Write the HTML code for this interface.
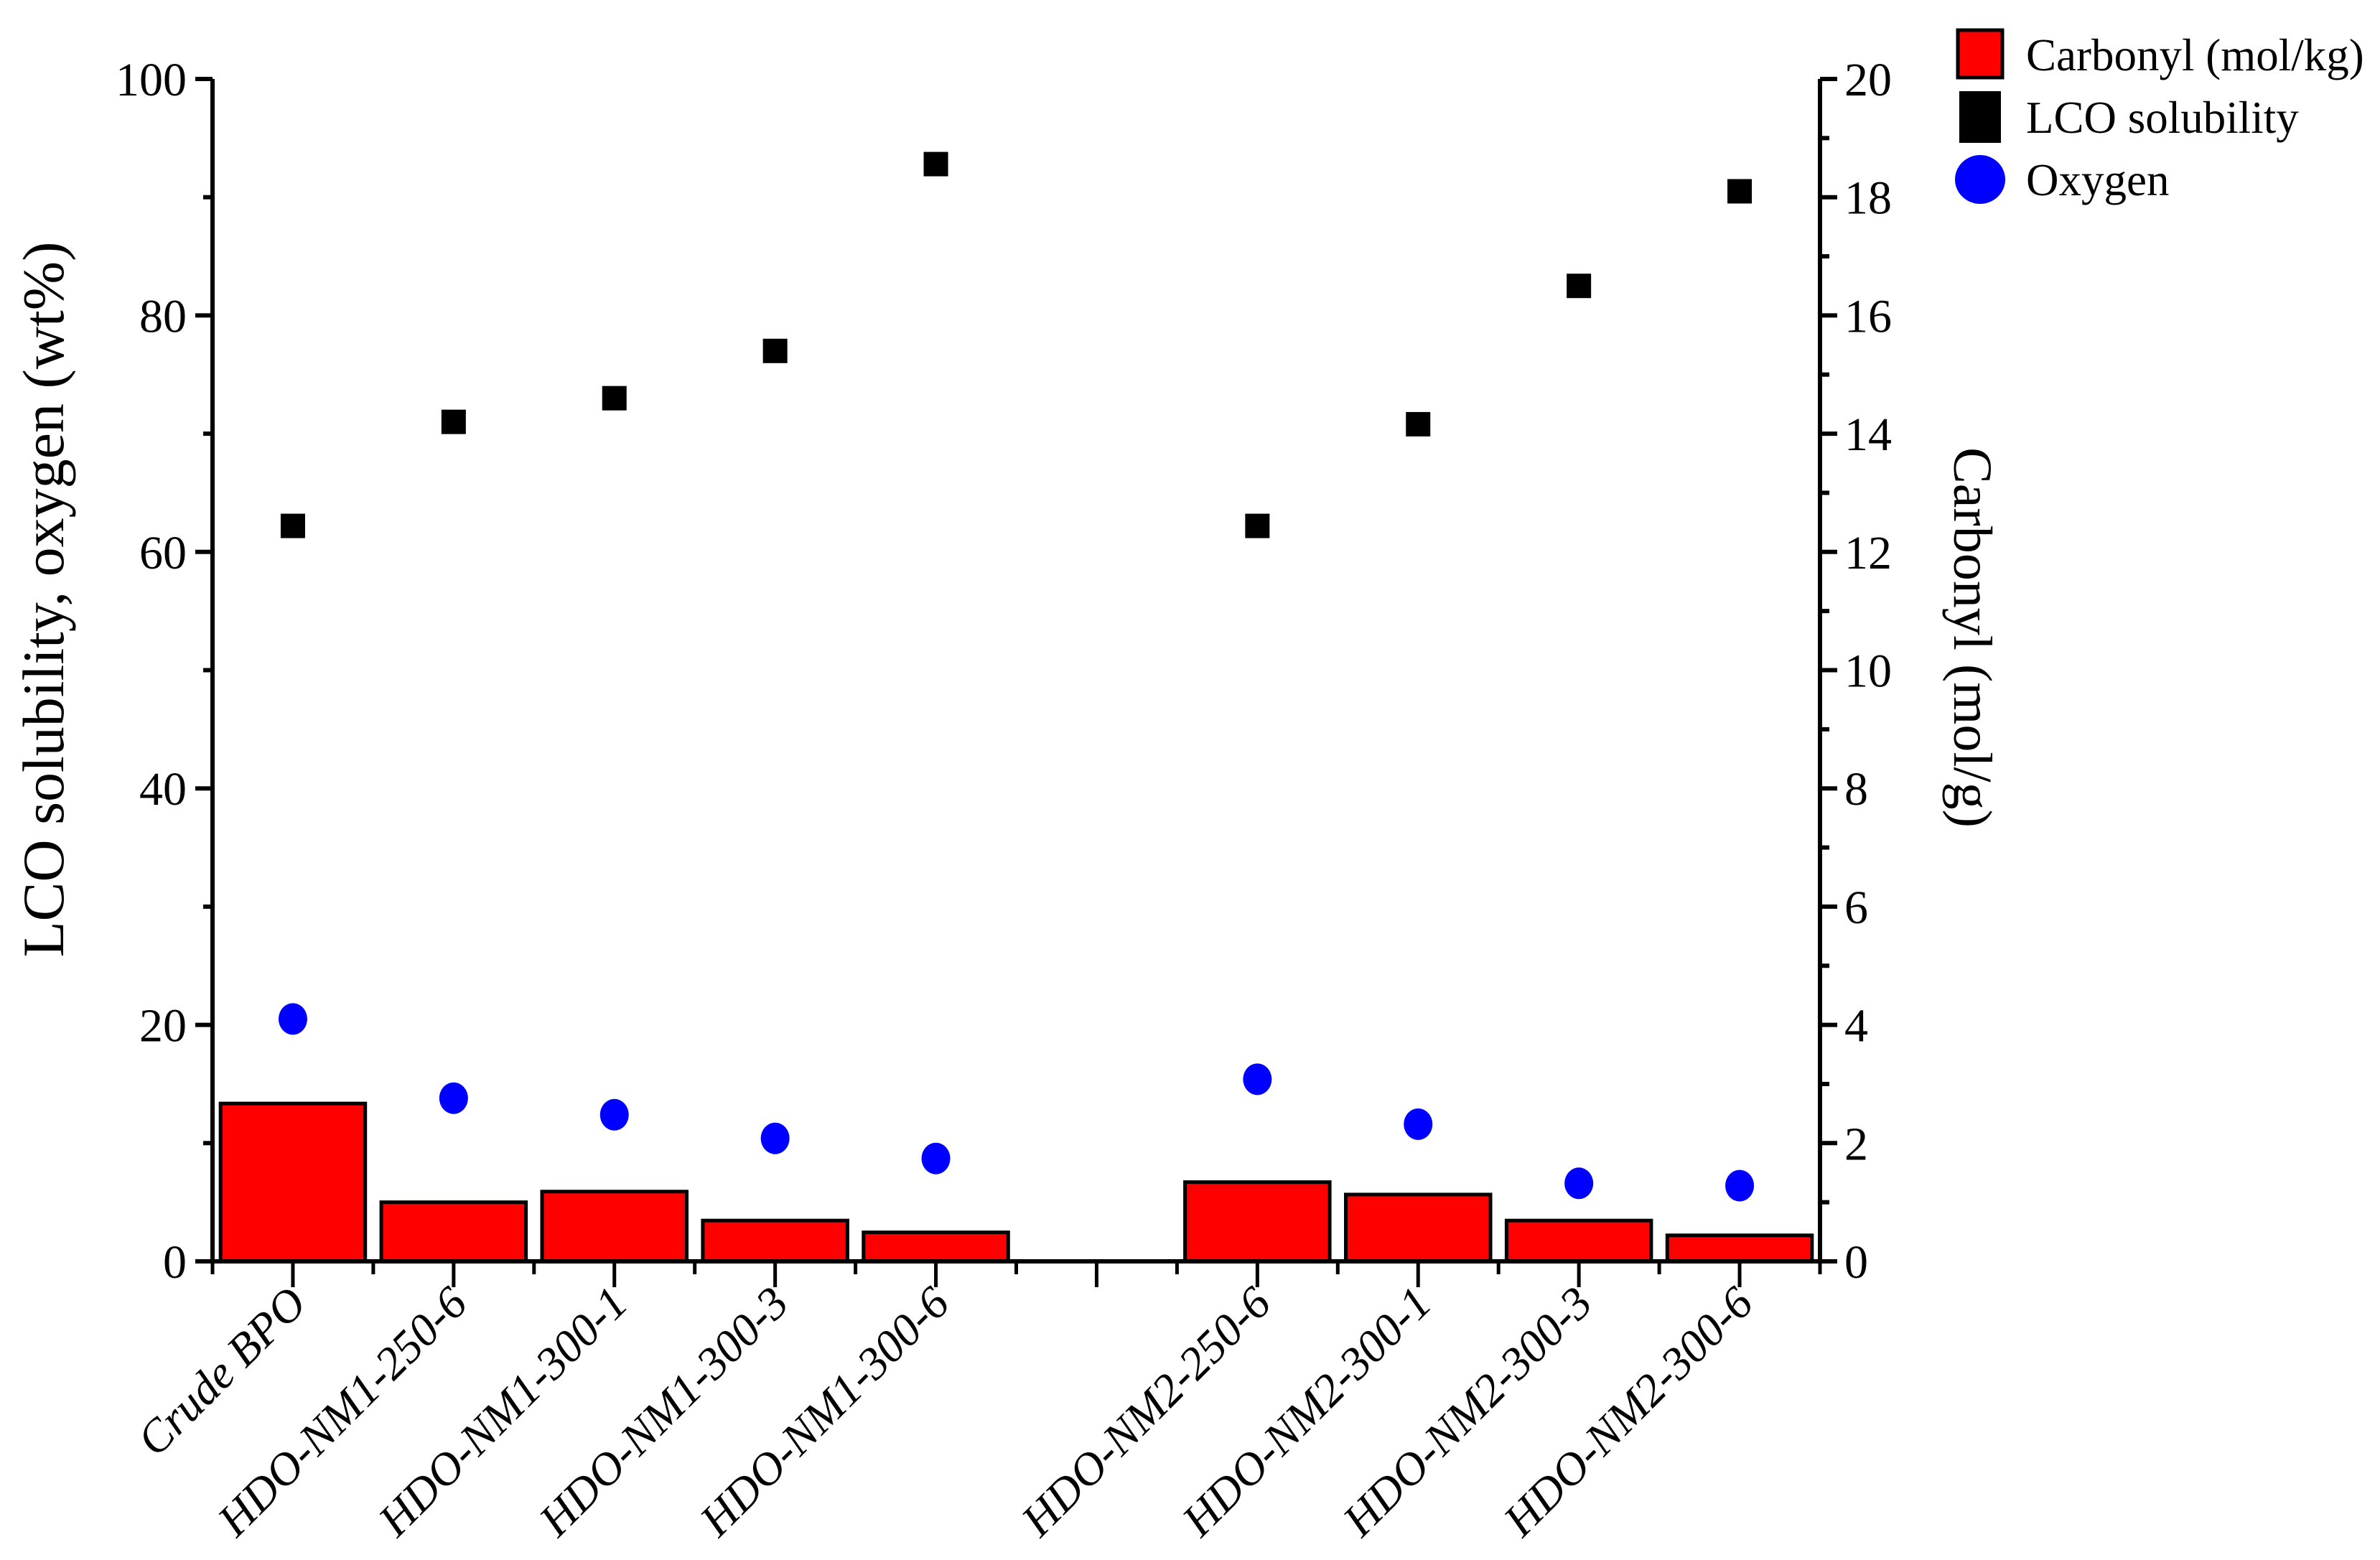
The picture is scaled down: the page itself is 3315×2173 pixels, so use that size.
<!DOCTYPE html>
<html><head><meta charset="utf-8"><style>
html,body{margin:0;padding:0;background:#fff}
svg{display:block}
text{font-family:"Liberation Serif",serif;fill:#000}
</style></head><body>
<svg id="chart" width="3315" height="2173" viewBox="0 0 3315 2173" xmlns="http://www.w3.org/2000/svg">
<g id="plot"></g>
<text x="0" y="0" font-size="82" text-anchor="middle" transform="translate(88,835) rotate(-90)">LCO solubility, oxygen (wt%)</text>
<text x="0" y="0" font-size="76" text-anchor="middle" transform="translate(2722,888) rotate(90)">Carbonyl (mol/g)</text>
<g>
<rect x="2727" y="42" width="62" height="66" fill="#ff0000" stroke="#000" stroke-width="5"/>
<text x="2822" y="98" font-size="63">Carbonyl (mol/kg)</text>
<rect x="2729" y="127" width="58" height="72" fill="#000"/>
<text x="2822" y="185" font-size="63">LCO solubility</text>
<ellipse cx="2758" cy="250" rx="35" ry="34" fill="#0000ff"/>
<text x="2822" y="272" font-size="63">Oxygen</text>
</g>
</svg>
<script>
const categories = ["Crude BPO","HDO-NM1-250-6","HDO-NM1-300-1","HDO-NM1-300-3","HDO-NM1-300-6","","HDO-NM2-250-6","HDO-NM2-300-1","HDO-NM2-300-3","HDO-NM2-300-6"];
const carbonyl = [2.67,1.0,1.18,0.69,0.49,null,1.34,1.13,0.69,0.44];
const lco = [62.2,71.0,73.0,77.0,92.8,null,62.2,70.8,82.5,90.5];
const oxygen = [20.5,13.8,12.4,10.4,8.7,null,15.4,11.6,6.6,6.4];
const leftTicks = [0,20,40,60,80,100];
const rightTicks = [0,2,4,6,8,10,12,14,16,18,20];

const X0=296, X1=2535, Y0=1757, Y1=110;
const slot=(X1-X0)/categories.length;
const xPos=i=>X0+slot*(i+0.5);
const yL=v=>Y0-(v/100)*(Y0-Y1);
const yR=v=>Y0-(v/20)*(Y0-Y1);
const NS="http://www.w3.org/2000/svg";
const g=document.getElementById('plot');
function mk(tag,attrs,parent){const e=document.createElementNS(NS,tag);for(const k in attrs)e.setAttribute(k,attrs[k]);(parent||g).appendChild(e);return e;}

carbonyl.forEach((v,i)=>{ if(v==null)return;
  const bw=slot*0.9;
  const r=mk('rect',{x:xPos(i)-bw/2,y:yR(v),width:bw,height:Y0-yR(v),fill:'#ff0000',stroke:'#000','stroke-width':5});
  
  
});
lco.forEach((v,i)=>{ if(v==null)return;
  const r=mk('rect',{x:xPos(i)-17,y:yL(v)-17,width:34,height:34,fill:'#000'});
  
  
});
oxygen.forEach((v,i)=>{ if(v==null)return;
  const c=mk('ellipse',{cx:xPos(i),cy:yL(v),rx:20,ry:22,fill:'#0000ff'});
  
  
});
const ax=mk('path',{d:`M${X0},${Y1} V${Y0} H${X1} V${Y1}`,fill:'none',stroke:'#000','stroke-width':6});


for(let v=0;v<=100;v+=10){
  const major=v%20===0;
  mk('line',{x1:X0,x2:X0-(major?24:13),y1:yL(v),y2:yL(v),stroke:'#000','stroke-width':6});
}
leftTicks.forEach(v=>{
  const t=mk('text',{x:X0-36,y:yL(v)+23,'font-size':66,'text-anchor':'end'});
  t.textContent=v;
  
  
});
for(let v=0;v<=20;v+=1){
  const major=v%2===0;
  mk('line',{x1:X1,x2:X1+(major?24:13),y1:yR(v),y2:yR(v),stroke:'#000','stroke-width':6});
}
rightTicks.forEach(v=>{
  const t=mk('text',{x:X1+34,y:yR(v)+23,'font-size':66,'text-anchor':'start'});
  t.textContent=v;
  
  
});
for(let i=0;i<=categories.length;i++){
  const x=X0+slot*i;
  mk('line',{x1:x,x2:x,y1:Y0,y2:Y0+18,stroke:'#000','stroke-width':5});
}
categories.forEach((c,i)=>{
  mk('line',{x1:xPos(i),x2:xPos(i),y1:Y0,y2:Y0+36,stroke:'#000','stroke-width':5});
  if(!c)return;
  const t=mk('text',{x:0,y:0,'font-size':64,'font-style':'italic','text-anchor':'end',transform:`translate(${xPos(i)+22},${Y0+62}) rotate(-45)`});
  t.textContent=c;
  
  
});
</script>
</body></html>
